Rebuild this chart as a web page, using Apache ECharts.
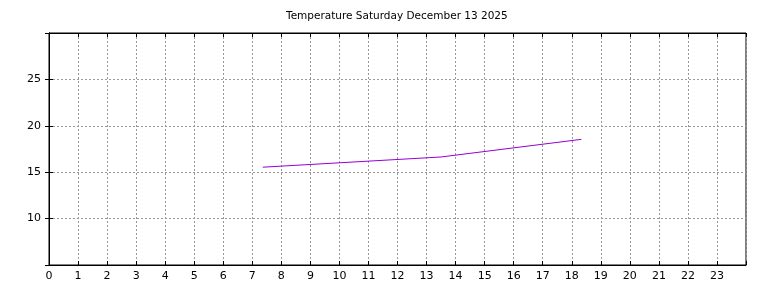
<!DOCTYPE html>
<html><head><meta charset="utf-8">
<script src="https://cdn.jsdelivr.net/npm/echarts@6/dist/echarts.min.js"></script>
<style>html,body{margin:0;padding:0;background:#fff}#c{width:768px;height:288px}</style>
</head><body><div id="c"></div>
<script>
const titleText = 'Temperature Saturday December 13 2025';
const hours = [7.36, 13.5, 18.33];
const temps = [15.54, 16.64, 18.54];
const xTicks = ['0','1','2','3','4','5','6','7','8','9','10','11','12','13','14','15','16','17','18','19','20','21','22','23'];
const yTicks = ['10','15','20','25'];

const chart = echarts.init(document.getElementById('c'), null, {renderer:'canvas'});
const font = 'DejaVu Sans';
const tick = {show:true, inside:true, length:4, lineStyle:{color:'#000', width:1}};
chart.setOption({
  animation:false,
  title:{text:titleText, left:286, top:11, padding:0, textStyle:{fontSize:10.5, fontWeight:'normal', color:'#000', fontFamily:font}},
  grid:{left:49, right:22, top:33, bottom:23, show:true, borderColor:'#000', borderWidth:1},
  xAxis:[{type:'value', min:0, max:24, interval:1, position:'bottom',
    axisLine:{show:true, lineStyle:{color:'#000', width:1}}, axisTick:tick,
    axisLabel:{color:'#000', fontSize:11, fontFamily:font, margin:6,
      formatter:v=>{const s=String(Math.round(v)); return xTicks.includes(s)?s:'';}},
    splitLine:{show:true, lineStyle:{color:'#999', type:[2,2], width:1}}},
    {type:'value', min:0, max:24, interval:1, position:'top', axisLine:{show:true, lineStyle:{color:'#000'}}, axisTick:tick, axisLabel:{show:false}, splitLine:{show:false}}],
  yAxis:[{type:'value', min:5, max:30, interval:5,
    axisLine:{show:true, lineStyle:{color:'#000', width:1}}, axisTick:tick,
    axisLabel:{color:'#000', fontSize:11, fontFamily:font, margin:8,
      formatter:v=>{const s=String(Math.round(v)); return yTicks.includes(s)?s:'';}},
    splitLine:{show:true, lineStyle:{color:'#999', type:[2,2], width:1}}},
    {type:'value', min:5, max:30, interval:5, position:'right', axisLine:{show:true, lineStyle:{color:'#000'}}, axisTick:tick, axisLabel:{show:false}, splitLine:{show:false}}],
  series:[{type:'line', data:hours.map((h,i)=>[h,temps[i]]), showSymbol:false, symbol:'none',
    lineStyle:{color:'#9400d3', width:1}, itemStyle:{color:'#9400d3'}}]
});
</script></body></html>
